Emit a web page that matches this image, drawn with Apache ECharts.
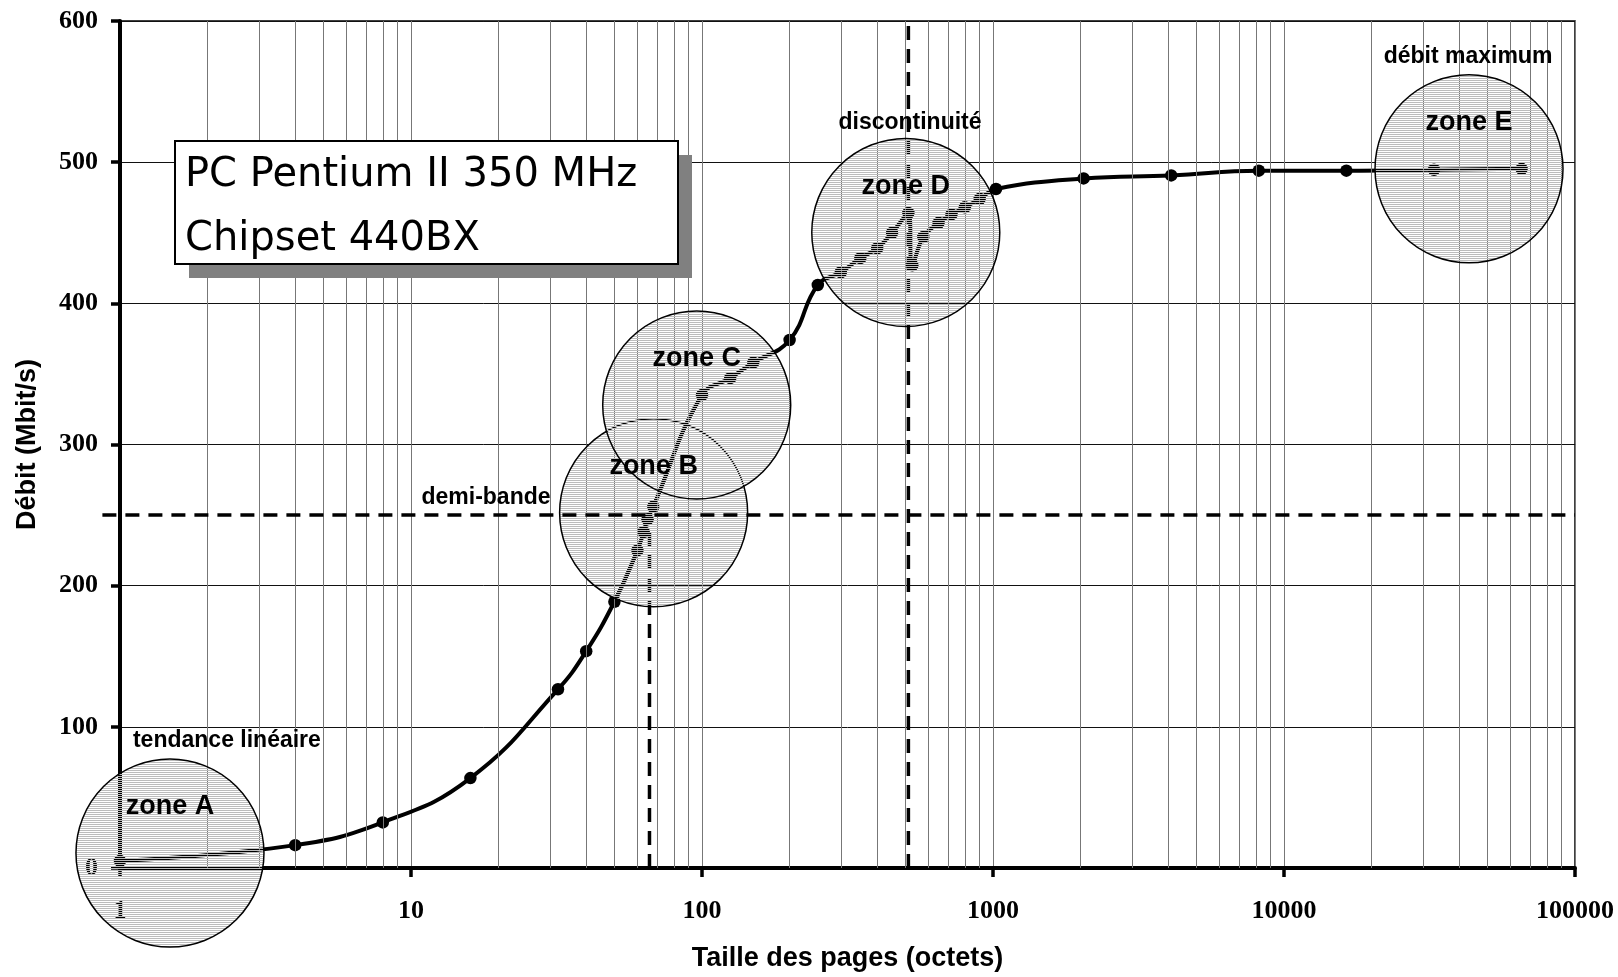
<!DOCTYPE html>
<html><head><meta charset="utf-8">
<script src="https://cdn.jsdelivr.net/npm/echarts@6/dist/echarts.min.js"></script>
<style>html,body{margin:0;padding:0;background:#fff}#c{width:1618px;height:977px}</style>
</head><body><div id="c"></div>
<script>
// ---- data ----
const pageSizes = [1, 4, 8, 16, 32, 40, 50, 60, 63, 65, 68, 100, 125, 150, 200, 250, 300, 350, 400, 450, 512, 528, 576, 650, 720, 800, 900, 1024, 2048, 4096, 8192, 16384, 32768, 65536];
const throughput = [5, 16.2, 32.3, 63.7, 126.6, 153.6, 188.6, 225, 238, 247, 256, 335, 347, 358, 374, 413, 422, 432, 439, 450, 464, 427, 447, 457, 463, 468, 474, 481, 488.5, 490.6, 494, 494, 494.6, 495.3];
const xTickLabels = ['1', '10', '100', '1000', '10000', '100000'];
const yTickLabels = ['0', '100', '200', '300', '400', '500', '600'];
const zoneNames = ['zone A', 'zone B', 'zone C', 'zone D', 'zone E'];
const zoneX = [1.485, 68.2, 95.9, 501.5, 43230];
const zoneY = [10.6, 251.7, 328, 450.2, 495.3];
const noteTexts = ['tendance linéaire', 'demi-bande', 'discontinuité', 'débit maximum'];
const noteX = [2.33, 18.1, 518.5, 42890];
const noteY = [90, 262.5, 528, 574.7];
const halfBand = 250;
const halfBandStart = 0.87;
const halfBandEnd = 100000;
const halfBandSize = 66;
const discontinuitySize = 512;
const boxLines = ['PC Pentium II 350 MHz', 'Chipset 440BX'];

// ---- helpers ----
const minorGrid = [];
for (let d = 1; d < 100000; d *= 10) for (let m = 2; m <= 9; m++) minorGrid.push({ xAxis: m * d });

const hatch = document.createElement('canvas');
hatch.width = 4; hatch.height = 2;
const hc = hatch.getContext('2d');
hc.fillStyle = '#bcbcbc'; hc.fillRect(0, 0, 4, 1);
const hatchFill = { type: 'pattern', image: hatch, repeat: 'repeat' };

const serifBold = { fontFamily: 'Liberation Serif', fontWeight: 'bold', fontSize: 26, color: '#000' };
const sansBold = { fontFamily: 'Liberation Sans', fontWeight: 'bold', color: '#000' };
const ZONE_R = 94;

const chart = echarts.init(document.getElementById('c'), null, { renderer: 'canvas' });
chart.setOption({
  animation: false,
  backgroundColor: '#fff',
  grid: { left: 120, right: 43, top: 21, bottom: 109, show: true, borderColor: '#000', borderWidth: 1.5, backgroundColor: 'transparent' },
  xAxis: {
    type: 'log', logBase: 10, min: 1, max: 100000,
    name: 'Taille des pages (octets)', nameLocation: 'middle', nameGap: 77,
    nameTextStyle: Object.assign({ fontSize: 27 }, sansBold),
    axisLine: { lineStyle: { color: '#000', width: 4 } },
    axisTick: { show: true, inside: false, length: 9, lineStyle: { color: '#000', width: 3.5 } },
    axisLabel: Object.assign({ margin: 30, showMinLabel: true, showMaxLabel: true,
      formatter: v => xTickLabels[Math.round(Math.log10(v))] }, serifBold),
    splitLine: { show: true, lineStyle: { color: '#777', width: 1 } },
    minorTick: { show: false }, minorSplitLine: { show: false }
  },
  yAxis: {
    type: 'value', min: 0, max: 600, interval: 100,
    name: 'Débit (Mbit/s)', nameLocation: 'middle', nameGap: 79, nameRotate: 90,
    nameTextStyle: Object.assign({ fontSize: 27 }, sansBold),
    axisLine: { show: true, lineStyle: { color: '#000', width: 4 } },
    axisTick: { show: true, inside: false, length: 9, lineStyle: { color: '#000', width: 3.5 } },
    axisLabel: Object.assign({ margin: 22, formatter: (v) => yTickLabels[Math.round(v / 100)] }, serifBold),
    splitLine: { show: true, lineStyle: { color: '#111', width: 1 } }
  },
  series: [
    { type: 'line', data: [], silent: true, z: 1,
      markLine: { silent: true, symbol: ['none', 'none'], label: { show: false },
        lineStyle: { color: '#777', width: 1, type: 'solid' }, emphasis: { disabled: true }, data: minorGrid } },
    { type: 'line', name: 'debit', z: 3, smooth: 0.45,
      data: pageSizes.map((s, i) => [s, throughput[i]]),
      symbol: 'circle', symbolSize: 12.5, showSymbol: true,
      lineStyle: { color: '#000', width: 4 }, itemStyle: { color: '#000' } },
    { type: 'line', z: 3, symbol: 'none', silent: true,
      data: [[halfBandSize, 0], [halfBandSize, halfBand]],
      lineStyle: { color: '#000', width: 3.5, type: [14, 9] } },
    { type: 'line', z: 3, symbol: 'none', silent: true,
      data: [[discontinuitySize, 0], [discontinuitySize, 600]],
      lineStyle: { color: '#000', width: 3.5, type: [14, 9] } },
    { type: 'custom', z: 5, silent: true, clip: false,
      data: zoneNames.map((n, i) => [zoneX[i], zoneY[i]]),
      renderItem: (params, api) => {
        const p = api.coord([api.value(0), api.value(1)]);
        return { type: 'group', children: [
          { type: 'circle', shape: { cx: p[0], cy: p[1], r: ZONE_R },
            style: { fill: hatchFill, stroke: '#000', lineWidth: 1.5 } },
          { type: 'text', z2: 10, style: { text: zoneNames[params.dataIndex], x: p[0], y: p[1] - 46,
            align: 'center', verticalAlign: 'middle', fontFamily: 'Liberation Sans', fontWeight: 'bold', fontSize: 27, fill: '#000' } }
        ] };
      } },
    { type: 'custom', z: 6, silent: true, clip: false,
      data: [[halfBandStart, halfBand, halfBandEnd]],
      renderItem: (params, api) => {
        const a = api.coord([api.value(0), api.value(1)]);
        const b = api.coord([api.value(2), api.value(1)]);
        return { type: 'line', shape: { x1: a[0], y1: a[1], x2: b[0], y2: b[1] },
          style: { stroke: '#000', lineWidth: 3.5, lineDash: [14, 9] } };
      } },
    { type: 'custom', z: 8, silent: true, clip: false,
      data: noteTexts.map((n, i) => [noteX[i], noteY[i]]),
      renderItem: (params, api) => {
        const p = api.coord([api.value(0), api.value(1)]);
        return { type: 'text', style: { text: noteTexts[params.dataIndex], x: p[0], y: p[1],
          align: 'center', verticalAlign: 'middle', fontFamily: 'Liberation Sans', fontWeight: 'bold', fontSize: 23, fill: '#000' } };
      } }
  ],
  graphic: [
    { type: 'rect', z: 20, shape: { x: 189, y: 155, width: 503, height: 123 }, style: { fill: '#808080' } },
    { type: 'rect', z: 21, shape: { x: 175, y: 141, width: 503, height: 123 }, style: { fill: '#fff', stroke: '#000', lineWidth: 2 } },
    { type: 'text', z: 22, x: 185, y: 176, style: { text: boxLines[0], fontFamily: 'DejaVu Sans', fontSize: 40, fill: '#000', verticalAlign: 'middle' } },
    { type: 'text', z: 22, x: 185, y: 240, style: { text: boxLines[1], fontFamily: 'DejaVu Sans', fontSize: 40, fill: '#000', verticalAlign: 'middle' } }
  ]
});
</script>
</body></html>
